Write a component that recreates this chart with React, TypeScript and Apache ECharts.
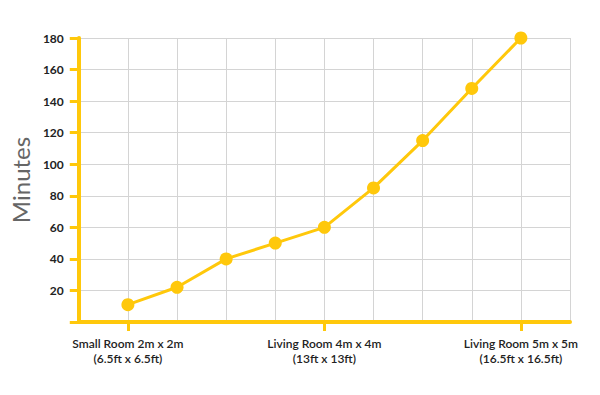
import React, { useEffect, useRef } from "react";
import * as echarts from "echarts";

const categories = [
  "",
  "Small Room 2m x 2m\n(6.5ft x 6.5ft)",
  "",
  "",
  "",
  "Living Room 4m x 4m\n(13ft x 13ft)",
  "",
  "",
  "",
  "Living Room 5m x 5m\n(16.5ft x 16.5ft)",
  "",
];
const minutes = [11, 22, 40, 50, 60, 85, 115, 148, 180];
const labeledIndices = [1, 5, 9];
const yTicks = { min: 0, max: 180, interval: 20 };

const YELLOW = "#FFC80B";

export default function App() {
  const ref = useRef<HTMLDivElement>(null);
  useEffect(() => {
    if (!ref.current) return;
    const chart = echarts.init(ref.current, null, { renderer: "svg" });
    const seriesData = [null, ...minutes, null];
    chart.setOption({
      animation: false,
      backgroundColor: "#ffffff",
      grid: { left: 77, right: 30, top: 38, bottom: 73 },
      xAxis: {
        type: "category",
        data: categories,
        boundaryGap: false,
        axisLine: { show: true, lineStyle: { color: YELLOW, width: 4 } },
        axisTick: {
          show: true,
          length: 9,
          lineStyle: { color: YELLOW, width: 3 },
          interval: (i: number) => labeledIndices.includes(i),
        },
        axisLabel: {
          interval: (i: number) => labeledIndices.includes(i),
          color: "#222",
          fontFamily: "Lato",
          fontSize: 12,
          fontWeight: 600,
          lineHeight: 15,
          margin: 14,
        },
        splitLine: {
          show: true,
          interval: 0,
          lineStyle: { color: "#d4d4d4", width: 1 },
        },
      },
      yAxis: {
        type: "value",
        min: yTicks.min,
        max: yTicks.max,
        interval: yTicks.interval,
        name: "Minutes",
        nameLocation: "middle",
        nameGap: 42,
        nameTextStyle: {
          color: "#666",
          fontFamily: "Lato",
          fontSize: 24,
        },
        axisLine: { show: true, lineStyle: { color: YELLOW, width: 4 } },
        axisTick: { show: true, length: 9, lineStyle: { color: YELLOW, width: 3 } },
        axisLabel: {
          color: "#222",
          fontFamily: "Lato",
          fontSize: 12,
          fontWeight: "bold",
          margin: 15,
          formatter: (v: number) => (v === 0 ? "" : String(v)),
        },
        splitLine: { show: true, lineStyle: { color: "#d4d4d4", width: 1 } },
      },
      series: [
        {
          type: "line",
          data: seriesData,
          connectNulls: false,
          symbol: "circle",
          symbolSize: 13,
          itemStyle: { color: YELLOW },
          lineStyle: { color: YELLOW, width: 3 },
        },
      ],
    });
    return () => chart.dispose();
  }, []);
  return <div ref={ref} style={{ width: 600, height: 395, margin: -8 }} />;
}
